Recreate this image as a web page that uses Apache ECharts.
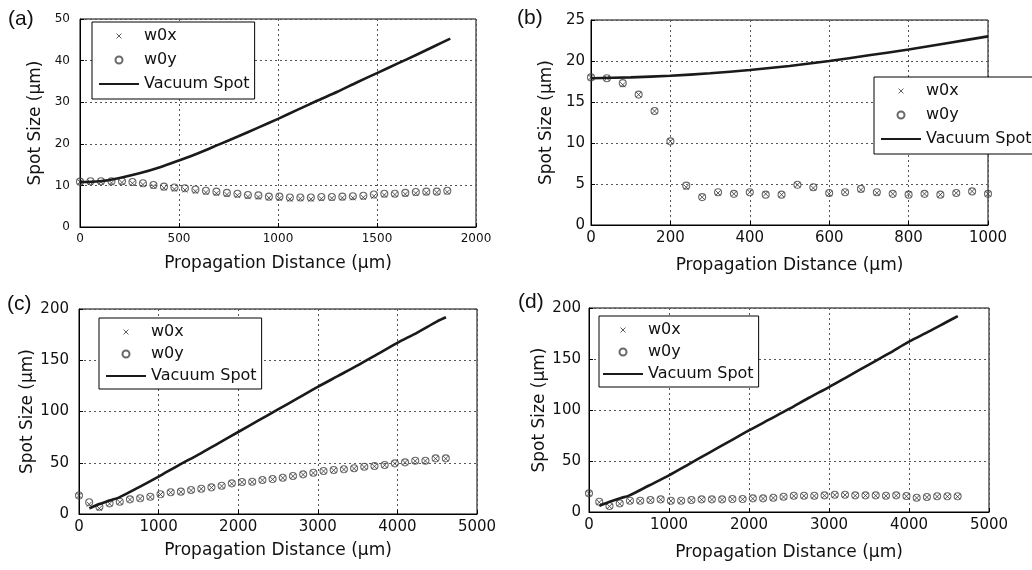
<!DOCTYPE html>
<html><head><meta charset="utf-8">
<script src="https://cdn.jsdelivr.net/npm/echarts@6/dist/echarts.min.js"></script>
<style>html,body{margin:0;padding:0;background:#fff}#c{width:1032px;height:570px}</style>
</head><body><div id="c"></div>
<script>
// ---------- Panel (a) ----------
const aDist = [0,53,106,159,212,265,318,371,424,477,530,583,636,689,742,795,848,901,954,1007,1060,1113,1166,1219,1272,1325,1378,1431,1484,1537,1590,1643,1696,1749,1802,1855];
const aW0y = [10.9,11.0,11.0,11.0,11.0,10.8,10.5,10.1,9.7,9.5,9.3,9.0,8.7,8.5,8.2,8.0,7.7,7.6,7.3,7.3,7.1,7.1,7.1,7.2,7.2,7.3,7.4,7.5,7.8,8.0,8.0,8.2,8.4,8.5,8.5,8.7];
const aW0x = [10.8,10.7,10.8,10.6,10.7,10.5,10.2,9.8,9.4,9.1,8.9,8.6,8.3,8.1,7.8,7.6,7.3,7.2,7.0,6.9,6.7,6.8,6.7,6.8,6.9,7.0,7.0,7.1,7.4,7.7,7.8,7.9,8.1,8.2,8.3,8.4];
const aVacDist = [0,100,200,300,400,500,600,700,800,900,1000,1100,1200,1300,1400,1500,1600,1700,1800,1870];
const aVac = [10.8,11.0,11.8,12.9,14.3,16.0,17.8,19.8,21.8,23.9,26.0,28.2,30.4,32.5,34.8,37.0,39.2,41.4,43.7,45.3];

// ---------- Panel (b) ----------
const bDist = [0,40,80,120,160,200,240,280,320,360,400,440,480,520,560,600,640,680,720,760,800,840,880,920,960,1000];
const bW0y = [18.0,17.9,17.3,15.9,13.9,10.2,4.8,3.4,4.0,3.8,4.0,3.7,3.7,4.9,4.6,3.9,4.0,4.4,4.0,3.8,3.7,3.8,3.7,3.9,4.1,3.8];
const bW0x = [18.0,17.9,17.1,15.9,13.9,10.2,4.6,3.4,3.9,3.8,4.0,3.8,3.7,4.9,4.5,3.8,4.0,4.3,3.9,3.8,3.8,3.8,3.7,3.9,4.1,3.8];
const bVacDist = [0,100,200,300,400,500,600,700,800,900,1000];
const bVac = [17.9,18.0,18.2,18.5,18.9,19.4,20.0,20.7,21.4,22.2,23.0];

// ---------- Panel (c) ----------
const cDist = [0,128,256,384,512,640,768,896,1024,1152,1280,1408,1536,1664,1792,1920,2048,2176,2304,2432,2560,2688,2816,2944,3072,3200,3328,3456,3584,3712,3840,3968,4096,4224,4352,4480,4608];
const cW0y = [18.0,11.4,7.1,10.4,12.0,14.3,15.3,16.9,19.2,21.2,21.8,23.4,24.7,26.0,27.6,29.9,31.2,31.5,33.2,34.1,35.4,37.1,38.7,40.3,42.0,42.9,43.6,44.6,46.1,46.8,47.8,49.4,50.4,52.0,52.0,54.3,54.3];
const cW0x = [18.0,9.5,5.5,10.0,11.6,14.0,15.0,16.5,19.0,21.0,21.5,23.0,24.5,25.8,27.2,29.6,31.0,31.2,33.0,33.8,35.2,36.8,38.4,40.0,41.8,42.6,43.4,44.3,45.8,46.5,47.6,49.2,50.2,51.7,51.8,54.0,54.0];
const cVacDist = [130,250,400,500,750,1000,1250,1500,1750,2000,2250,2500,2750,3000,3250,3500,3750,4000,4250,4500,4610];
const cVac = [5.5,9.5,13.5,16.0,26.0,36.5,47.5,58.0,69.0,80.0,91.0,102.0,113.0,124.0,134.5,145.0,156.0,167.0,177.0,188.0,192.0];

// ---------- Panel (d) ----------
const dDist = cDist;
const dW0y = [18.3,10.1,5.9,8.5,11.1,11.1,11.8,12.4,11.1,11.1,11.8,12.4,12.4,12.4,12.7,12.7,13.4,13.4,14.0,15.0,16.0,16.0,16.0,16.3,16.9,16.9,16.3,16.3,16.3,16.0,16.3,15.7,14.0,14.7,15.4,15.4,15.4];
const dW0x = [18.0,9.5,5.5,8.0,10.8,10.9,11.5,12.1,10.9,10.8,11.5,12.1,12.2,12.1,12.5,12.4,13.1,13.2,13.8,14.7,15.7,15.8,15.7,16.0,16.6,16.7,16.0,16.1,16.0,15.8,16.0,15.4,13.8,14.4,15.1,15.2,15.1];
const dVacDist = cVacDist;
const dVac = [6.0,9.8,13.8,16.0,26.0,36.0,47.0,58.0,69.0,80.0,90.5,101.0,112.0,122.5,133.5,144.5,155.5,167.0,177.0,187.5,192.0];

// ---------- Axis settings / labels ----------
const panelLabels = ['(a)','(b)','(c)','(d)'];
const seriesNames = ['w0x','w0y','Vacuum Spot'];
const xTitle = 'Propagation Distance (\u03bcm)';
const yTitle = 'Spot Size (\u03bcm)';
const xRanges = [[0,2000,500],[0,1000,200],[0,5000,1000],[0,5000,1000]];
const yRanges = [[0,50,10],[0,25,5],[0,200,50],[0,200,50]];

const panels = [
  {dist:aDist, w0x:aW0x, w0y:aW0y, vd:aVacDist, v:aVac},
  {dist:bDist, w0x:bW0x, w0y:bW0y, vd:bVacDist, v:bVac},
  {dist:cDist, w0x:cW0x, w0y:cW0y, vd:cVacDist, v:cVac},
  {dist:dDist, w0x:dW0x, w0y:dW0y, vd:dVacDist, v:dVac}
];

const zip = (xs, ys) => xs.map((x, i) => [x, ys[i]]);

// layout
const grids = [
  {left:80, top:19, width:396, height:208},
  {left:591, top:20, width:397, height:205},
  {left:79, top:309, width:398, height:205},
  {left:589, top:308, width:400, height:204}
];
const tickFont = [12,15,15,15];
const xNameGap = [28,32,28,32];
const yNameGap = [36,36,31,37];
const yLabelMargin = [10,6,10,8];
const labelPos = [[8,9],[517,8],[7,294],[518,292]];
const legendPos = [
  {left:92, top:22, padding:[6,5,7,6], itemGap:8},
  {left:874, top:77, padding:[6,5,7,6], itemGap:8},
  {left:99, top:318, padding:[6,5,5,6], itemGap:6},
  {left:599, top:316, padding:[6,5,5,3], itemGap:6}
];

const FONT = 'DejaVu Sans';
const gridLine = {show:true, lineStyle:{color:'#555', type:[2,3], width:1}};
const plainNum = v => String(v);

const option = {
  backgroundColor:'#fff',
  animation:false,
  grid: grids.map(g => Object.assign({show:true, borderColor:'#000', borderWidth:1, backgroundColor:'transparent', containLabel:false}, g)),
  xAxis: grids.map((g, i) => ({
    type:'value', gridIndex:i, min:xRanges[i][0], max:xRanges[i][1], interval:xRanges[i][2],
    name:xTitle, nameLocation:'middle', nameGap:xNameGap[i],
    nameTextStyle:{fontFamily:FONT, fontSize:17, color:'#111'},
    axisLine:{show:true, onZero:false, lineStyle:{color:'#000', width:1}},
    axisTick:{show:true, inside:true, length:4, lineStyle:{color:'#000'}},
    axisLabel:{fontFamily:FONT, fontSize:tickFont[i], color:'#111', margin:6, formatter:plainNum},
    splitLine:gridLine
  })),
  yAxis: grids.map((g, i) => ({
    type:'value', gridIndex:i, min:yRanges[i][0], max:yRanges[i][1], interval:yRanges[i][2],
    name:yTitle, nameLocation:'middle', nameGap:yNameGap[i], nameRotate:90,
    nameTextStyle:{fontFamily:FONT, fontSize:17, color:'#111'},
    axisLine:{show:true, onZero:false, lineStyle:{color:'#000', width:1}},
    axisTick:{show:true, inside:true, length:4, lineStyle:{color:'#000'}},
    axisLabel:{fontFamily:FONT, fontSize:tickFont[i], color:'#111', margin:yLabelMargin[i], formatter:plainNum},
    splitLine:gridLine
  })),
  legend: legendPos.map((p, i) => ({
    orient:'vertical', left:p.left, top:p.top, padding:p.padding, itemGap:p.itemGap,
    itemWidth:40, itemHeight:7,
    backgroundColor:'#fff', borderColor:'#000', borderWidth:1, borderRadius:0,
    selectedMode:false,
    textStyle:{fontFamily:FONT, fontSize:16, lineHeight:16, color:'#111', padding:[0,0,0,0]},
    data:[
      {name:seriesNames[0], icon:'path://M0,0M10,10M1.5,1.5L8.5,8.5M8.5,1.5L1.5,8.5',
       itemStyle:{color:'rgba(0,0,0,0)', borderColor:'#333', borderWidth:1}},
      {name:seriesNames[1]},
      {name:seriesNames[2]}
    ]
  })),
  graphic: panelLabels.map((t, i) => ({
    type:'text', left:labelPos[i][0], top:labelPos[i][1],
    style:{text:t, fontFamily:'Liberation Sans', fontSize:21, fill:'#111'}
  })),
  series: []
};

panels.forEach((p, i) => {
  option.series.push({
    name:seriesNames[1], type:'scatter', xAxisIndex:i, yAxisIndex:i,
    data:zip(p.dist, p.w0y), symbol:'circle', symbolSize:7,
    itemStyle:{color:'rgba(0,0,0,0)', borderColor:'#444', borderWidth:1.1},
    z:3
  });
  option.series.push({
    name:seriesNames[0], type:'scatter', xAxisIndex:i, yAxisIndex:i,
    data:zip(p.dist, p.w0x), symbol:'path://M0,0L10,10M10,0L0,10', symbolSize:5,
    itemStyle:{color:'rgba(0,0,0,0)', borderColor:'#333', borderWidth:1},
    z:4
  });
  option.series.push({
    name:seriesNames[2], type:'line', xAxisIndex:i, yAxisIndex:i,
    data:zip(p.vd, p.v), symbol:'none', smooth:0.3,
    lineStyle:{color:'#1a1a1a', width:2.6},
    itemStyle:{color:'rgba(0,0,0,0)'},
    z:5
  });
});

const chart = echarts.init(document.getElementById('c'), null, {renderer:'canvas'});
chart.setOption(option);
</script>
</body></html>
